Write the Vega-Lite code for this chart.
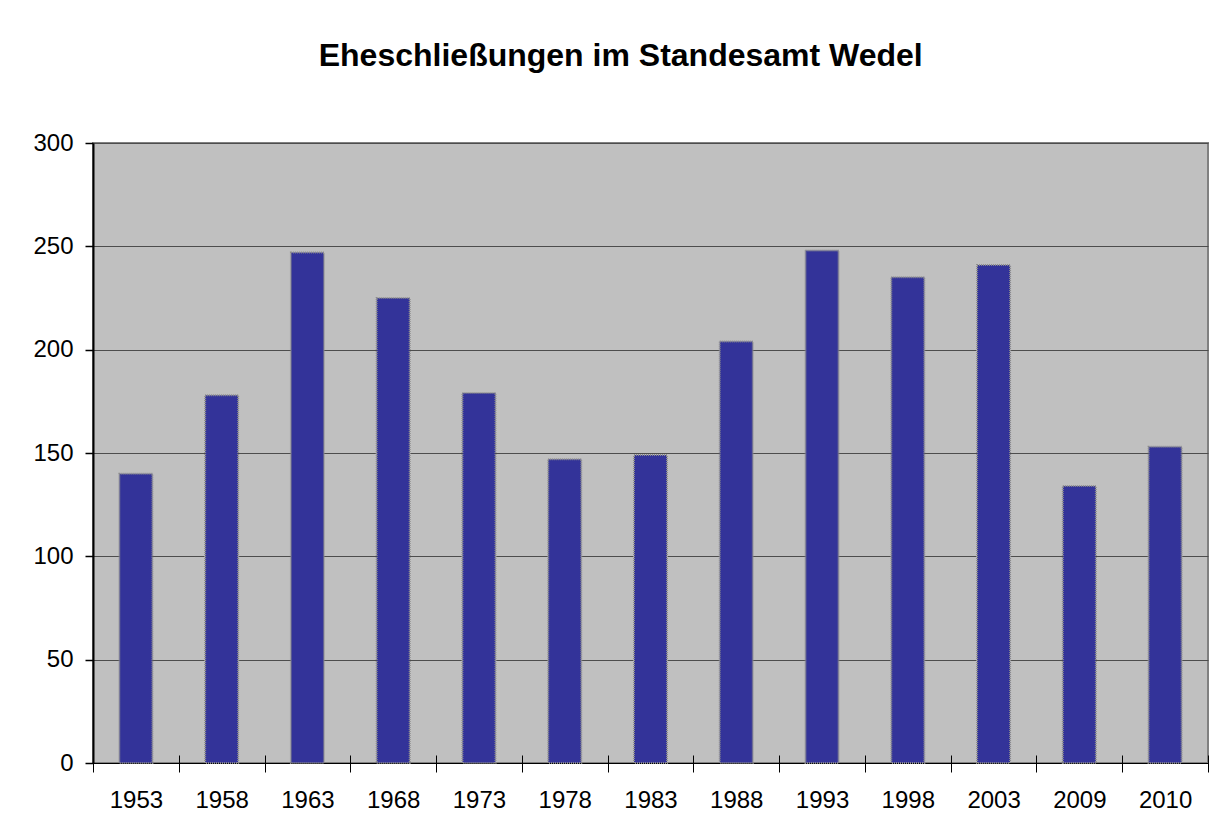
{
  "$schema": "https://vega.github.io/schema/vega-lite/v6.json",
  "autosize": "none",
  "width": 1115,
  "height": 620,
  "padding": {"left": 93, "top": 143, "right": 12, "bottom": 73},
  "background": "white",
  "title": {
    "text": "Eheschließungen im Standesamt Wedel",
    "font": "Liberation Sans",
    "fontSize": 32,
    "fontWeight": "bold",
    "color": "black",
    "anchor": "middle",
    "frame": "bounds",
    "offset": 58
  },
  "data": {
    "values": [
      {"Jahr": "1953", "Anzahl": 140},
      {"Jahr": "1958", "Anzahl": 178},
      {"Jahr": "1963", "Anzahl": 247},
      {"Jahr": "1968", "Anzahl": 225},
      {"Jahr": "1973", "Anzahl": 179},
      {"Jahr": "1978", "Anzahl": 147},
      {"Jahr": "1983", "Anzahl": 149},
      {"Jahr": "1988", "Anzahl": 204},
      {"Jahr": "1993", "Anzahl": 248},
      {"Jahr": "1998", "Anzahl": 235},
      {"Jahr": "2003", "Anzahl": 241},
      {"Jahr": "2009", "Anzahl": 134},
      {"Jahr": "2010", "Anzahl": 153}
    ]
  },
  "mark": {
    "type": "bar",
    "color": "#333399",
    "width": {"band": 0.385},
    "stroke": "#8c8c8c",
    "strokeWidth": 2,
    "strokeDash": [1, 1]
  },
  "encoding": {
    "x": {
      "field": "Jahr",
      "type": "nominal",
      "sort": null,
      "scale": {"paddingInner": 0, "paddingOuter": 0},
      "axis": {
        "title": null,
        "labelAngle": 0,
        "labelFont": "Liberation Sans",
        "labelFontSize": 24,
        "labelColor": "black",
        "labelPadding": 16,
        "tickBand": "extent",
        "tickSize": 17,
        "tickColor": "black",
        "tickWidth": 1,
        "offset": -8,
        "domain": false,
        "grid": false
      }
    },
    "y": {
      "field": "Anzahl",
      "type": "quantitative",
      "scale": {"domain": [0, 300], "nice": false},
      "axis": {
        "title": null,
        "values": [0, 50, 100, 150, 200, 250, 300],
        "labelFont": "Liberation Sans",
        "labelFontSize": 24,
        "labelColor": "black",
        "labelPadding": 12,
        "tickSize": 8,
        "tickColor": "black",
        "tickWidth": 1.5,
        "domainColor": "black",
        "domainWidth": 2,
        "grid": true,
        "gridColor": {"condition": {"test": "datum.value === 0", "value": "black"}, "value": "#4d4d4d"},
        "gridWidth": 1.2,
        "gridOpacity": 1
      }
    }
  },
  "config": {
    "view": {"fill": "#c0c0c0", "stroke": "#808080", "strokeWidth": 2}
  }
}
